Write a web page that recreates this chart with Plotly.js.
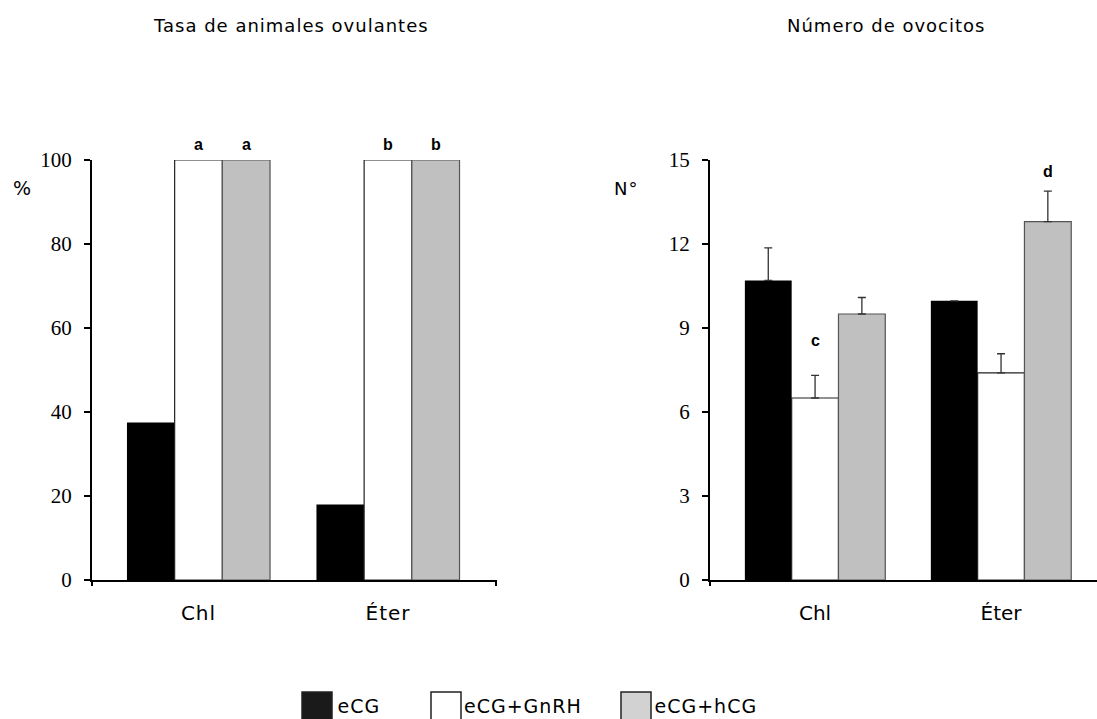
<!DOCTYPE html>
<html>
<head>
<meta charset="utf-8">
<script src="https://cdn.plot.ly/plotly-3.0.1.min.js"></script>
<style>
html,body{margin:0;padding:0;background:#fff;}
#chart .xtick text {letter-spacing:1px;}
</style>
</head>
<body>
<div id="chart" style="width:1097px;height:719px;"></div>
<script>
// ---- data ----
const categories = ['Chl', 'Éter'];
const seriesNames = ['eCG', 'eCG+GnRH', 'eCG+hCG'];

// Panel 1: Tasa de animales ovulantes (%)
const ovulRate_eCG   = [37.5, 18];
const ovulRate_GnRH  = [100, 100];
const ovulRate_hCG   = [100, 100];

// Panel 2: Número de ovocitos (mean + upper error)
const oocytes_eCG    = [10.7, 9.97];
const oocytes_GnRH   = [6.5, 7.4];
const oocytes_hCG    = [9.5, 12.8];
const oocytesErr_eCG  = [1.16, null];
const oocytesErr_GnRH = [0.81, 0.68];
const oocytesErr_hCG  = [0.59, 1.09];

const yTicks1 = [0, 20, 40, 60, 80, 100];
const yTicks2 = [0, 3, 6, 9, 12, 15];

// significance letters
const letters1 = ['a', 'a', 'b', 'b'];
const letterCat1 = [0, 0, 1, 1];
const letterSeries1 = [1, 2, 1, 2];
const letterY1 = [103.6, 103.6, 103.6, 103.6];
const letters2 = ['c', 'd'];
const letterCat2 = [0, 1];
const letterSeries2 = [1, 2];
const letterY2 = [8.55, 14.6];

// ---- styling ----
const colors = ['#000000', '#ffffff', '#c0c0c0'];
const lineColors = ['#000000', '#222222', '#555555'];
const sans = 'DejaVu Sans, Verdana, sans-serif';
const serif = 'Liberation Serif, Times New Roman, serif';
const bargap = 0.245;
const barW = (1 - bargap) / 3;
const xIdx = categories.map((c, i) => i);

const p1 = [ovulRate_eCG, ovulRate_GnRH, ovulRate_hCG];
const p2 = [oocytes_eCG, oocytes_GnRH, oocytes_hCG];
const e2 = [oocytesErr_eCG, oocytesErr_GnRH, oocytesErr_hCG];

const traces = [];
p1.forEach((vals, s) => traces.push({
  type: 'bar', x: xIdx, y: vals, name: seriesNames[s], xaxis: 'x', yaxis: 'y',
  marker: {color: colors[s], line: {color: lineColors[s], width: s === 0 ? 0 : 1.2}},
  showlegend: false, hoverinfo: 'y'
}));
p2.forEach((vals, s) => traces.push({
  type: 'bar', x: xIdx, y: vals, name: seriesNames[s], xaxis: 'x2', yaxis: 'y2',
  marker: {color: colors[s], line: {color: lineColors[s], width: s === 0 ? 0 : 1.2}},
  error_y: {type: 'data', symmetric: false, array: e2[s], arrayminus: e2[s].map(() => 0),
            color: '#333333', thickness: 1.3, width: 4},
  showlegend: false, hoverinfo: 'y'
}));

const W = 1097, H = 719;
const px = v => v / W, py = v => 1 - v / H;
const yDom = [py(580), py(160)];
const range1 = [0, 100], range2 = [0, 15];
// value -> paper fraction through the axis scale (letters may sit above the plot top)
const toPaper = (v, r) => yDom[0] + (v - r[0]) / (r[1] - r[0]) * (yDom[1] - yDom[0]);

const annotations = [];
const titleFont = {family: sans, size: 18, color: '#000'};
const spacedIdx = [];
annotations.push({text: 'Tasa de animales ovulantes', xref: 'paper', yref: 'paper', x: px(291), y: py(25),
  showarrow: false, font: titleFont, xanchor: 'center', yanchor: 'middle'});
spacedIdx.push(annotations.length - 1);
annotations.push({text: 'Número de ovocitos', xref: 'paper', yref: 'paper', x: px(886), y: py(25),
  showarrow: false, font: titleFont, xanchor: 'center', yanchor: 'middle'});
spacedIdx.push(annotations.length - 1);
annotations.push({text: '%', xref: 'paper', yref: 'paper', x: px(22), y: py(188),
  showarrow: false, font: {family: sans, size: 19, color: '#000'}, xanchor: 'center', yanchor: 'middle'});
annotations.push({text: 'N°', xref: 'paper', yref: 'paper', x: px(626), y: py(188),
  showarrow: false, font: {family: sans, size: 18, color: '#000'}, xanchor: 'center', yanchor: 'middle'});
spacedIdx.push(annotations.length - 1);
// letters
const letterFont = {family: 'Liberation Sans, Arial, sans-serif', size: 16, color: '#000'};
letters1.forEach((t, i) => annotations.push({text: '<b>' + t + '</b>', xref: 'x', yref: 'paper',
  x: letterCat1[i] + (letterSeries1[i] - 1) * barW, y: toPaper(letterY1[i], range1), showarrow: false,
  xanchor: 'center', yanchor: 'middle', font: letterFont}));
letters2.forEach((t, i) => annotations.push({text: '<b>' + t + '</b>', xref: 'x2', yref: 'paper',
  x: letterCat2[i] + (letterSeries2[i] - 1) * barW, y: toPaper(letterY2[i], range2), showarrow: false,
  xanchor: 'center', yanchor: 'middle', font: letterFont}));

// custom legend
const legBoxX = [302, 431, 621];
const legFill = ['#1a1a1a', '#ffffff', '#d2d2d2'];
const shapes = [];
seriesNames.forEach((n, i) => {
  shapes.push({type: 'rect', xref: 'paper', yref: 'paper', x0: px(legBoxX[i]), x1: px(legBoxX[i] + 30),
    y0: py(722), y1: py(692), fillcolor: legFill[i], line: {color: '#222', width: 1.5}});
  annotations.push({text: n, xref: 'paper', yref: 'paper', x: px(legBoxX[i] + 35), y: py(706),
    showarrow: false, xanchor: 'left', yanchor: 'middle', font: {family: sans, size: 19, color: '#000'}});
  spacedIdx.push(annotations.length - 1);
});
// end ticks on category axes
[['x domain', 'y domain', [0, 1]], ['x2 domain', 'y2 domain', [0]]].forEach(([xr, yr, ends]) => {
  ends.forEach(e => shapes.push({type: 'line', xref: xr, yref: yr, x0: e, x1: e, y0: 0, y1: -0.0143,
    line: {color: '#000', width: 2}}));
});

const xBase = {
  showline: true, linecolor: '#000', linewidth: 2, ticks: '', showgrid: false, zeroline: false,
  tickmode: 'array', tickvals: xIdx, ticktext: categories, ticklabelstandoff: 14,
  tickfont: {family: sans, size: 20, color: '#000'}, fixedrange: true
};
const yBase = {
  showline: true, linecolor: '#000', linewidth: 2, ticks: 'outside', ticklen: 6, tickwidth: 2,
  tickcolor: '#000', showgrid: false, zeroline: false, tickmode: 'array', ticklabelstandoff: 8,
  tickfont: {family: serif, size: 21, color: '#000'}, fixedrange: true
};

const layout = {
  width: W, height: H, margin: {l: 0, r: 0, t: 0, b: 0},
  paper_bgcolor: '#fff', plot_bgcolor: 'rgba(0,0,0,0)',
  barmode: 'group', bargap: bargap, bargroupgap: 0, showlegend: false,
  xaxis: Object.assign({}, xBase, {domain: [px(92), px(496)], range: [-0.562, 1.57], anchor: 'y'}),
  yaxis: Object.assign({}, yBase, {domain: yDom, range: range1, tickvals: yTicks1, anchor: 'x'}),
  xaxis2: Object.assign({}, xBase, {domain: [px(710), 1], range: [-0.565, 1.516], anchor: 'y2'}),
  yaxis2: Object.assign({}, yBase, {domain: yDom, range: range2, tickvals: yTicks2, anchor: 'x2'}),
  annotations: annotations, shapes: shapes
};

Plotly.newPlot('chart', traces, layout, {displayModeBar: false, staticPlot: true}).then(gd => {
  // widen letter spacing of the sans texts to mimic the original rendering
  gd.querySelectorAll('.annotation').forEach(g => {
    const idx = +g.getAttribute('data-index');
    if (spacedIdx.includes(idx)) {
      const t = g.querySelector('.annotation-text');
      if (t) t.style.letterSpacing = '1px';
    }
  });
});
</script>
</body>
</html>
